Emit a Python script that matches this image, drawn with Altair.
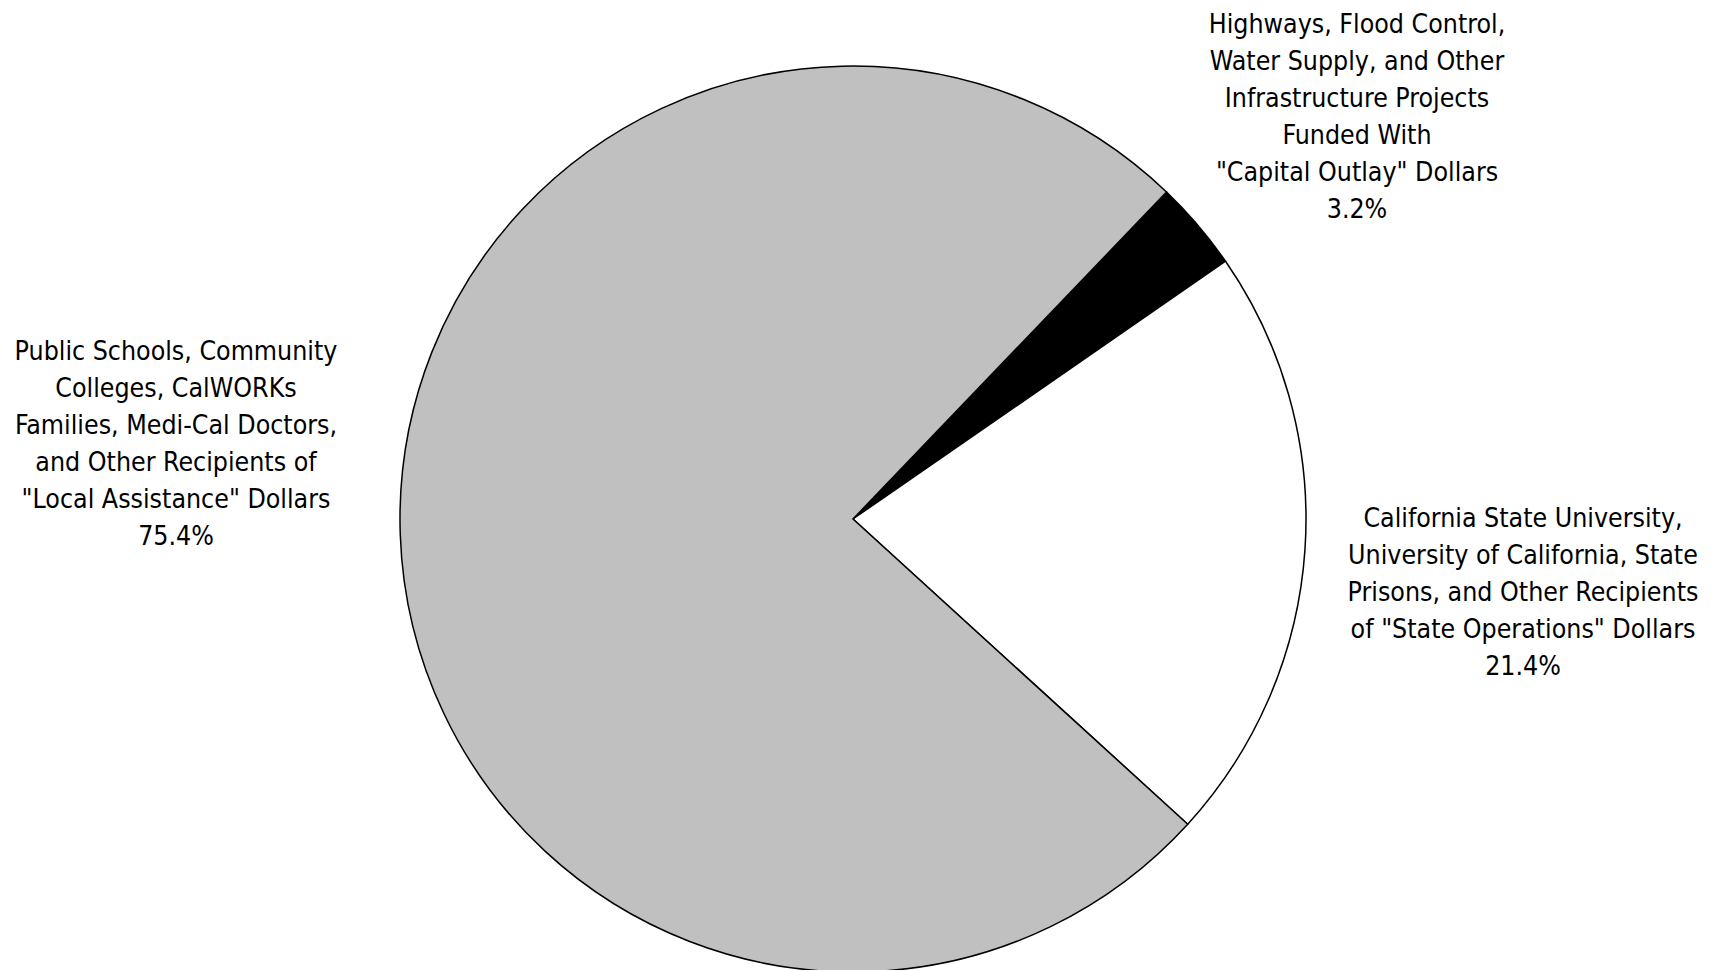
import altair as alt
import pandas as pd
import math

categories = ["Capital Outlay", "State Operations", "Local Assistance"]
shares = [3.2, 21.4, 75.4]
order = [1, 2, 3]
colors = ["#000000", "#FFFFFF", "#C0C0C0"]

label_capital = "Highways, Flood Control,\nWater Supply, and Other\nInfrastructure Projects\nFunded With\n\"Capital Outlay\" Dollars\n3.2%"
label_state = "California State University,\nUniversity of California, State\nPrisons, and Other Recipients\nof \"State Operations\" Dollars\n21.4%"
label_local = "Public Schools, Community\nColleges, CalWORKs\nFamilies, Medi-Cal Doctors,\nand Other Recipients of\n\"Local Assistance\" Dollars\n75.4%"

df = pd.DataFrame({"category": categories, "share": shares, "order": order})

start = math.radians(43.8)

pie = alt.Chart(df).mark_arc(
    outerRadius=453, stroke="#000000", strokeWidth=1.5
).encode(
    theta=alt.Theta("share:Q", stack=True, scale=alt.Scale(range=[start, start + 2 * math.pi])),
    color=alt.Color("category:N", scale=alt.Scale(domain=categories, range=colors), legend=None),
    order=alt.Order("order:Q"),
    x=alt.value(845),
    y=alt.value(511),
)

FONT = "Liberation Sans Narrow, Arial Narrow, DejaVu Sans Condensed, Liberation Sans, sans-serif"

def label(text, x, y):
    return alt.Chart(pd.DataFrame({"t": [text]})).mark_text(
        font=FONT, fontSize=26.5, lineHeight=37, lineBreak="\n",
        align="center", baseline="alphabetic", color="#000000"
    ).encode(text="t:N", x=alt.value(x), y=alt.value(y))

chart = alt.layer(
    pie,
    label(label_capital, 1349, 25),
    label(label_state, 1515, 519),
    label(label_local, 168, 352),
).properties(
    width=1698, height=962, padding=0, autosize=alt.AutoSizeParams(type="none")
).configure_view(stroke=None)

chart.save("out.html", embed_options={"renderer": "svg", "actions": False})
